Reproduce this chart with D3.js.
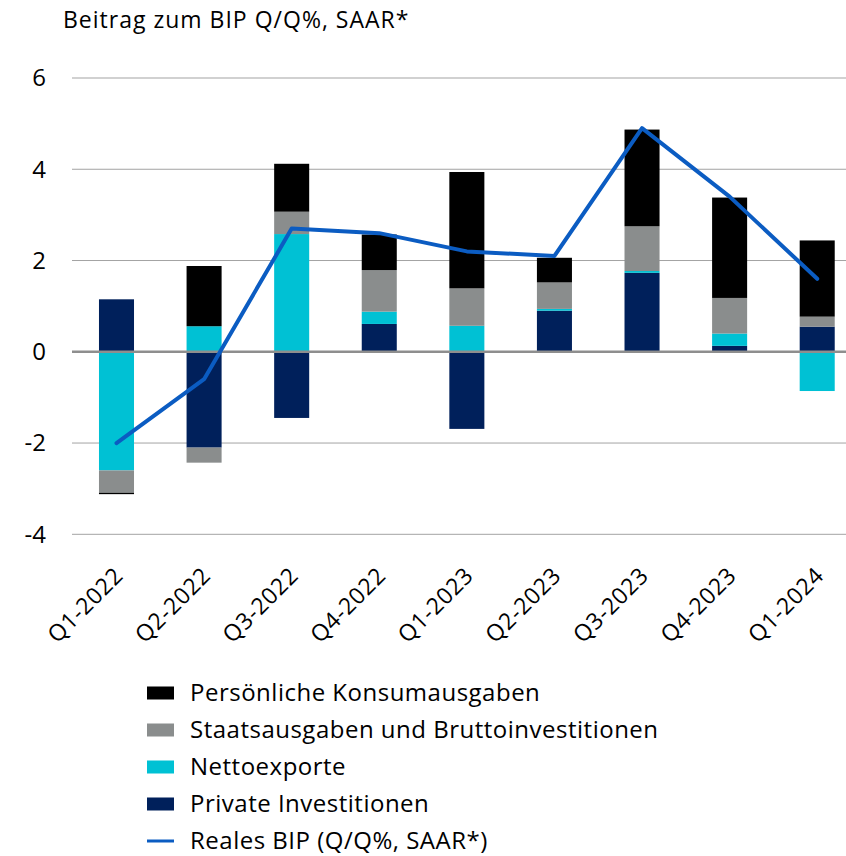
<!DOCTYPE html>
<html>
<head>
  <title>Beitrag zum BIP</title>
  <script src="https://d3js.org/d3.v7.min.js"></script>
  <style>
    body { margin: 0; background: white; }
    svg { display: block; }
    text { font-family: "Open Sans", "Noto Sans", sans-serif; fill: #000; }
    .grid { stroke: #a3a3a3; stroke-width: 1; }
    .zero { stroke: #8e8e8e; stroke-width: 2.5; }
  </style>
</head>
<body>
<script>
// data
var quarters = ["Q1-2022", "Q2-2022", "Q3-2022", "Q4-2022", "Q1-2023", "Q2-2023", "Q3-2023", "Q4-2023", "Q1-2024"];
var privateInv = [1.15, -2.10, -1.45, 0.61, -1.69, 0.90, 1.73, 0.13, 0.55];
var netExports = [-2.60, 0.56, 2.58, 0.27, 0.57, 0.04, 0.04, 0.27, -0.86];
var government = [-0.49, -0.33, 0.49, 0.91, 0.82, 0.58, 0.98, 0.78, 0.22];
var consumption = [-0.03, 1.32, 1.05, 0.78, 2.55, 0.54, 2.12, 2.20, 1.67];
var realGdp = [-2.0, -0.6, 2.7, 2.6, 2.2, 2.1, 4.9, 3.4, 1.6];
var yTicks = [-4, -2, 0, 2, 4, 6];

var seriesKeys = ["pi", "nx", "gov", "pce"];
var seriesNames = {
  pce: "Persönliche Konsumausgaben",
  gov: "Staatsausgaben und Bruttoinvestitionen",
  nx: "Nettoexporte",
  pi: "Private Investitionen"
};
var colors = { pce: "#000000", gov: "#8a8d8d", nx: "#00c1d4", pi: "#00205b" };
var lineColor = "#0b5cc2";

var width = 846, height = 856;

var rows = quarters.map(function(q, i) {
  return { q: q, pi: privateInv[i], nx: netExports[i], gov: government[i], pce: consumption[i] };
});

var svg = d3.select("body").append("svg")
  .attr("width", width).attr("height", height);

var x = d3.scaleBand()
  .domain(quarters)
  .range([72.7, 861])
  .paddingInner(0.6)
  .paddingOuter(0.3);

var y = d3.scaleLinear()
  .domain([-4, 6])
  .range([534.3, 78]);

// title
svg.append("text")
  .attr("x", 63).attr("y", 28)
  .style("font-size", "23px")
  .style("letter-spacing", "1px")
  .text("Beitrag zum BIP Q/Q%, SAAR*");

// gridlines
svg.append("g").selectAll("line")
  .data(yTicks.filter(function(d) { return d !== 0; }))
  .enter().append("line")
  .attr("class", "grid")
  .attr("x1", 72).attr("x2", width)
  .attr("y1", function(d) { return y(d); })
  .attr("y2", function(d) { return y(d); });

// y tick labels
svg.append("g").selectAll("text")
  .data(yTicks)
  .enter().append("text")
  .attr("x", 46)
  .attr("y", function(d) { return y(d); })
  .attr("dy", "0.35em")
  .attr("text-anchor", "end")
  .style("font-size", "24px")
  .text(function(d) { return d; });

// stacked bars
var stack = d3.stack()
  .keys(seriesKeys)
  .offset(d3.stackOffsetDiverging);

var layers = stack(rows);

svg.append("g").selectAll("g")
  .data(layers)
  .enter().append("g")
  .attr("fill", function(d) { return colors[d.key]; })
  .selectAll("rect")
  .data(function(d) { return d; })
  .enter().append("rect")
  .attr("x", function(d) { return x(d.data.q); })
  .attr("width", x.bandwidth())
  .attr("y", function(d) { return y(Math.max(d[0], d[1])); })
  .attr("height", function(d) { return Math.abs(y(d[0]) - y(d[1])); });

// zero line
svg.append("line")
  .attr("class", "zero")
  .attr("x1", 72).attr("x2", width)
  .attr("y1", y(0)).attr("y2", y(0));

// real GDP line
var line = d3.line()
  .x(function(d, i) { return x(quarters[i]) + x.bandwidth() / 2; })
  .y(function(d) { return y(d); });

svg.append("path")
  .datum(realGdp)
  .attr("fill", "none")
  .attr("stroke", lineColor)
  .attr("stroke-width", 4)
  .attr("stroke-linejoin", "round")
  .attr("stroke-linecap", "round")
  .attr("d", line);

// x labels, rotated
svg.append("g").selectAll("text")
  .data(quarters)
  .enter().append("text")
  .attr("text-anchor", "end")
  .style("font-size", "23px")
  .style("letter-spacing", "0.6px")
  .attr("transform", function(d) {
    var cx = x(d) + x.bandwidth() / 2 + 8;
    return "translate(" + cx + ",577) rotate(-45)";
  })
  .text(function(d) { return d; });

// legend
var legendItems = ["pce", "gov", "nx", "pi", "gdp"];
var legend = svg.append("g").selectAll("g")
  .data(legendItems)
  .enter().append("g")
  .attr("transform", function(d, i) { return "translate(147," + (693 + i * 37) + ")"; });

legend.filter(function(d) { return d !== "gdp"; })
  .append("rect")
  .attr("x", 0).attr("y", -6.5)
  .attr("width", 27).attr("height", 13)
  .attr("fill", function(d) { return colors[d]; });

legend.filter(function(d) { return d === "gdp"; })
  .append("line")
  .attr("x1", 0).attr("x2", 27)
  .attr("y1", 0).attr("y2", 0)
  .attr("stroke", lineColor)
  .attr("stroke-width", 3);

legend.append("text")
  .attr("x", 43).attr("y", 0)
  .attr("dy", "0.35em")
  .style("font-size", "24px")
  .style("letter-spacing", "0.5px")
  .text(function(d) { return d === "gdp" ? "Reales BIP (Q/Q%, SAAR*)" : seriesNames[d]; });
</script>
</body>
</html>
